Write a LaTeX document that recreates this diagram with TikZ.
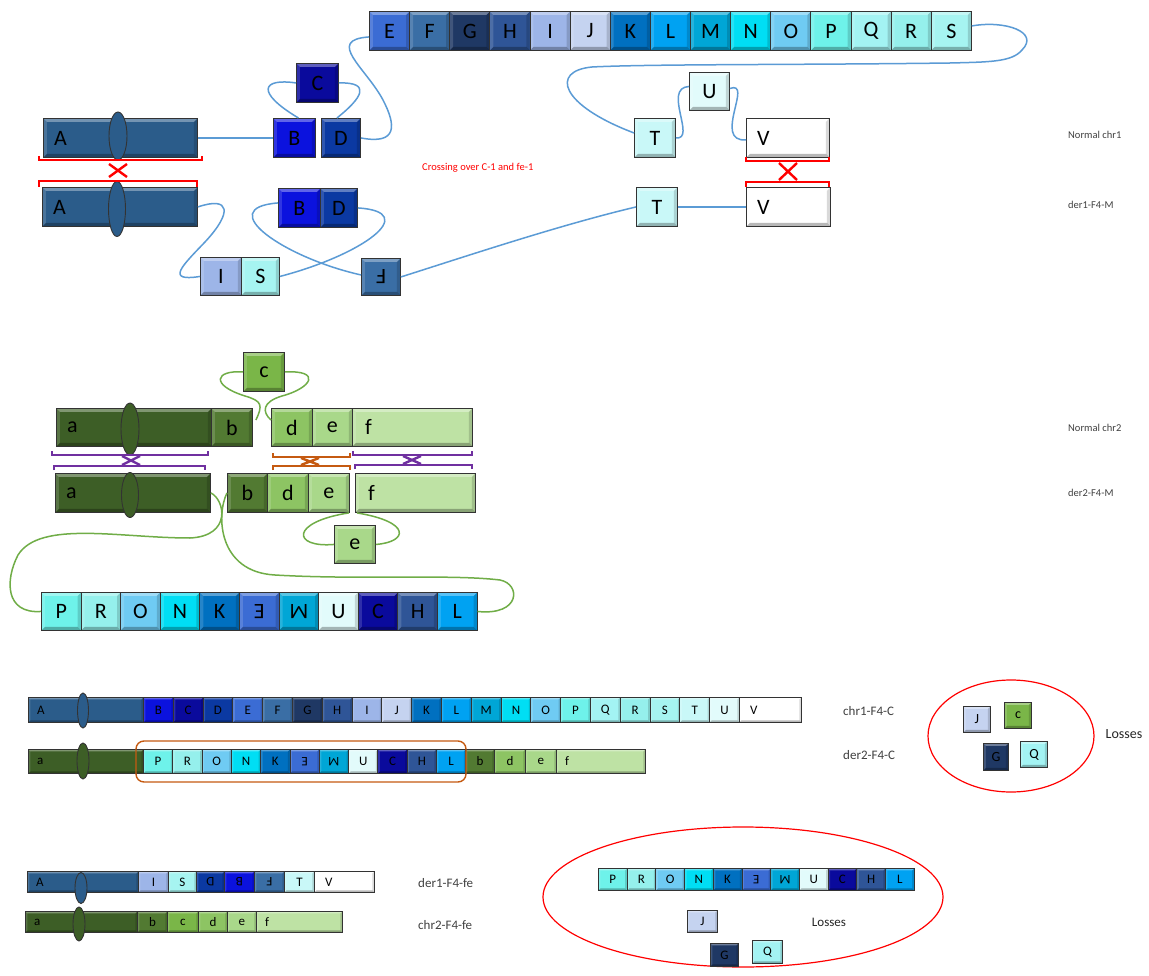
\documentclass[tikz,border=0pt]{standalone}
\usepackage{fontspec}
\setmainfont{Carlito}
\usepackage{graphicx}
\usetikzlibrary{shapes.geometric}
\definecolor{colA}{HTML}{2B5C8A}
\definecolor{colB}{HTML}{0B12DE}
\definecolor{colC}{HTML}{0A0A9C}
\definecolor{colD}{HTML}{0B39A2}
\definecolor{colE}{HTML}{3B6CD4}
\definecolor{colF}{HTML}{3A6EA5}
\definecolor{colG}{HTML}{1F3864}
\definecolor{colH}{HTML}{2F5597}
\definecolor{colI}{HTML}{9DB5E8}
\definecolor{colJ}{HTML}{C5D3F0}
\definecolor{colK}{HTML}{0070C0}
\definecolor{colL}{HTML}{00A2F2}
\definecolor{colM}{HTML}{00A6D6}
\definecolor{colN}{HTML}{00DEF4}
\definecolor{colO}{HTML}{6FCBF3}
\definecolor{colP}{HTML}{6EF2EA}
\definecolor{colQ}{HTML}{A3F3F3}
\definecolor{colR}{HTML}{95F0EC}
\definecolor{colS}{HTML}{A6F4F1}
\definecolor{colT}{HTML}{C9F8F8}
\definecolor{colU}{HTML}{E2FBFB}
\definecolor{colV}{HTML}{FFFFFF}
\definecolor{gra}{HTML}{3D5E26}
\definecolor{grb}{HTML}{527A32}
\definecolor{grc}{HTML}{7AB648}
\definecolor{grd}{HTML}{8DC463}
\definecolor{gre}{HTML}{A9D88A}
\definecolor{grf}{HTML}{BEE2A4}
\definecolor{lnblue}{HTML}{5B9BD5}
\definecolor{lngreen}{HTML}{70AD47}
\definecolor{lnpurple}{HTML}{7030A0}
\definecolor{lnorange}{HTML}{C55A11}
\definecolor{lnred}{HTML}{FF0000}
\definecolor{lblgray}{HTML}{404040}
\newcommand\flip[1]{\rotatebox[origin=c]{180}{#1}}
\tikzset{
  bev/.store in=\bevw, bev=3.5pt,
  seg/.style={draw=black!80, line width=0.9pt, inner sep=0pt, anchor=north west,
    font=\fontsize{22}{22}\selectfont,
    path picture={
      \fill[white,opacity=.35] (path picture bounding box.north west) -- (path picture bounding box.north east)
        -- ([xshift=-\bevw,yshift=-\bevw]path picture bounding box.north east)
        -- ([xshift=\bevw,yshift=-\bevw]path picture bounding box.north west) -- cycle;
      \fill[white,opacity=.15] (path picture bounding box.north west) -- (path picture bounding box.south west)
        -- ([xshift=\bevw,yshift=\bevw]path picture bounding box.south west)
        -- ([xshift=\bevw,yshift=-\bevw]path picture bounding box.north west) -- cycle;
      \fill[black,opacity=.28] (path picture bounding box.south west) -- (path picture bounding box.south east)
        -- ([xshift=-\bevw,yshift=\bevw]path picture bounding box.south east)
        -- ([xshift=\bevw,yshift=\bevw]path picture bounding box.south west) -- cycle;
      \fill[black,opacity=.15] (path picture bounding box.north east) -- (path picture bounding box.south east)
        -- ([xshift=-\bevw,yshift=\bevw]path picture bounding box.south east)
        -- ([xshift=-\bevw,yshift=-\bevw]path picture bounding box.north east) -- cycle;
    }},
  sseg/.style={seg, bev=2pt, font=\fontsize{13}{13}\selectfont},
  mseg/.style={seg, bev=2.5pt, font=\fontsize{14}{14}\selectfont},
  lin/.style={anchor=west, xshift=11pt, inner sep=0pt, font=\fontsize{22}{22}\selectfont},
  slin/.style={anchor=west, xshift=9pt, inner sep=0pt, font=\fontsize{13}{13}\selectfont},
  cen/.style={ellipse, draw=black!80, line width=0.9pt, inner sep=0pt},
  bl/.style={draw=lnblue, line width=1.5pt},
  gr/.style={draw=lngreen, line width=1.5pt},
  rb/.style={draw=lnred, line width=2.4pt},
  pb/.style={draw=lnpurple, line width=2.4pt},
  ob/.style={draw=lnorange, line width=2.4pt},
  rlab/.style={anchor=west, inner sep=0pt, text=lblgray, font=\fontsize{10.5}{10.5}\selectfont},
  blab/.style={anchor=west, inner sep=0pt, text=lblgray, font=\fontsize{13}{13}\selectfont},
}
\begin{document}
\begin{tikzpicture}[x=1pt,y=-1pt]
\useasboundingbox (0,0) rectangle (1149,976);
\fill[white] (0,0) rectangle (1149,976);

% ---------------- top section: Normal chr1 / der1-F4-M
\node[seg,fill=colA,minimum width=154,minimum height=39,label={[lin]west:A}] (A1) at (43,118) {};
\node[cen,fill=colA,minimum width=18,minimum height=48] (A1c) at (118,136) {};
\node[seg,fill=colB,minimum width=42,minimum height=39] (B1) at (273,118) {B};
\node[seg,fill=colD,minimum width=39,minimum height=39] (D1) at (321,118) {D};
\node[seg,fill=colC,minimum width=42,minimum height=39] (C1) at (296,63) {C};
\foreach \nm [count=\i from 0] in {E,F,G,H,I,J,K,L,M,N,O,P,Q,R,S}
  \node[seg,fill=col\nm,minimum width=40.13,minimum height=39] (t\nm) at ({369+40.13*\i},11) {\nm};
\node[seg,fill=colT,minimum width=41,minimum height=39] (T1) at (634,118) {T};
\node[seg,fill=colU,minimum width=40,minimum height=38] (U1) at (689,72) {U};
\node[seg,fill=colV,minimum width=83,minimum height=39,label={[lin]west:V}] (V1) at (746,118) {};

\node[seg,fill=colA,minimum width=155,minimum height=39,label={[lin]west:A}] (A2) at (42,187) {};
\node[cen,fill=colA,minimum width=17,minimum height=55] (A2c) at (117,209) {};
\node[seg,fill=colB,minimum width=42,minimum height=39] (B2) at (278,188) {B};
\node[seg,fill=colD,minimum width=37,minimum height=39] (D2) at (320,188) {D};
\node[seg,fill=colI,minimum width=41,minimum height=38] (I2) at (200,257) {I};
\node[seg,fill=colS,minimum width=38,minimum height=38] (S2) at (241,257) {S};
\node[seg,fill=colF,minimum width=39,minimum height=37] (F2) at (361,258) {\flip{F}};
\node[seg,fill=colT,minimum width=41,minimum height=39] (T2) at (636,187) {T};
\node[seg,fill=colV,minimum width=84,minimum height=39,label={[lin]west:V}] (V2) at (746,187) {};

% blue connectors
\draw[bl] (A1.east) -- (B1.west);
\draw[bl] ([xshift=4pt]B1.north) .. controls (255,92) and (262,78) .. (C1.west);
\draw[bl] (C1.east) .. controls (372,82) and (362,98) .. ([xshift=-4pt]D1.north);
\draw[bl] (D1.east) .. controls (398,145) and (396,125) .. (383,100) .. controls (366,68) and (325,40) .. ([yshift=-6pt]tE.west);
\draw[bl] ([yshift=5pt]tS.east) .. controls (1005,20) and (1040,32) .. (1022,50) .. controls (1012,62) and (990,62) .. (950,63)
   .. controls (800,65) and (650,64) .. (592,67) .. controls (550,71) and (560,105) .. ([yshift=5pt]T1.west);
\draw[bl] (T1.east) .. controls (697,140) and (662,88) .. ([yshift=5pt]U1.west);
\draw[bl] ([yshift=3pt]U1.east) .. controls (754,80) and (712,142) .. ([yshift=-2pt]V1.west);
\draw[bl] (T2.east) -- (V2.west);
\draw[bl] (T2.west) .. controls (560,225) and (470,255) .. (F2.east);
\draw[bl] (A2.east) .. controls (230,196) and (233,212) .. (205,242) .. controls (182,266) and (165,282) .. (I2.west);
\draw[bl] ([yshift=5pt]B2.west) .. controls (212,208) and (285,258) .. ([yshift=2pt]F2.west);
\draw[bl] (D2.east) .. controls (422,212) and (362,255) .. (S2.east);

% red brackets
\draw[rb] (39,156) -- (39,160) -- (202,160) -- (202,156);
\draw[rb] (39,187) -- (39,181) -- (197,181) -- (197,187);
\draw[rb] (109,164) -- (127,177) (127,164) -- (109,177);
\draw[rb] (746,157) -- (746,161) -- (829,161) -- (829,157);
\draw[rb] (746,187) -- (746,182) -- (829,182) -- (829,187);
\draw[rb] (779,163) -- (797,180) (797,163) -- (779,180);

\node[anchor=west,inner sep=0pt,text=lnred,font=\fontsize{10.5}{10.5}\selectfont] (cross) at (422,168) {Crossing over C-1 and fe-1};
\node[rlab] (lab1) at (1068,135) {Normal chr1};
\node[rlab] (lab2) at (1068,205) {der1-F4-M};

% ---------------- middle section: Normal chr2 / der2-F4-M
\node[seg,fill=grc,minimum width=41,minimum height=39] (c1) at (243,352) {c};
\node[seg,fill=gra,minimum width=155,minimum height=38,label={[lin]west:a}] (a1) at (56,408) {};
\node[cen,fill=gra,minimum width=18,minimum height=52] (a1c) at (130,429) {};
\node[seg,fill=grb,minimum width=41,minimum height=38] (b1) at (211,408) {b};
\node[seg,fill=grd,minimum width=41,minimum height=38] (d1) at (271,408) {d};
\node[seg,fill=gre,minimum width=40,minimum height=38] (e1) at (312,408) {e};
\node[seg,fill=grf,minimum width=120,minimum height=38,label={[lin,xshift=2pt]west:f}] (f1) at (352,408) {};

\node[seg,fill=gra,minimum width=155,minimum height=39,label={[lin]west:a}] (a2) at (55,473) {};
\node[cen,fill=gra,minimum width=17,minimum height=45] (a2c) at (130,495) {};
\node[seg,fill=grb,minimum width=40,minimum height=39] (b2) at (227,473) {b};
\node[seg,fill=grd,minimum width=41,minimum height=39] (d2) at (267,473) {d};
\node[seg,fill=gre,minimum width=41,minimum height=39] (e2) at (308,473) {e};
\node[seg,fill=grf,minimum width=120,minimum height=39,label={[lin,xshift=2pt]west:f}] (f2) at (355,473) {};
\node[seg,fill=gre,minimum width=41,minimum height=38] (e3) at (334,525) {e};
\foreach \nm/\cl/\lb [count=\i from 0] in {P/colP/P,R/colR/R,O/colO/O,N/colN/N,K/colK/K,E/colE/\flip{E},M/colM/\flip{M},U/colU/U,C/colC/C,H/colH/H,L/colL/L}
  \node[seg,fill=\cl,minimum width=39.6,minimum height=38] (m\nm) at ({41+39.6*\i},592) {\lb};

% green connectors
\draw[gr] ([shift={(3pt,-12pt)}]b1.north east) .. controls (263,405) and (262,401) .. (245,396) .. controls (210,385) and (215,370) .. (c1.west);
\draw[gr] (c1.east) .. controls (322,370) and (312,388) .. (282,396) .. controls (262,402) and (262,412) .. ([yshift=-12pt]d1.north west);
\draw[gr] (a2.east) .. controls (225,500) and (232,536) .. (190,538) .. controls (120,538) and (40,520) .. (18,555) .. controls (5,580) and (5,614) .. (mP.west);
\draw[gr] (b2.west) .. controls (216,515) and (218,572) .. (275,575) .. controls (360,580) and (450,574) .. (500,580) .. controls (521,584) and (521,616) .. (mL.east);
\draw[gr] ([xshift=-1pt]e2.south east) .. controls (290,522) and (292,548) .. (e3.west);
\draw[gr] ([xshift=2pt]f2.south west) .. controls (412,522) and (408,542) .. (e3.east);

% purple / orange brackets
\draw[pb] (52,451) -- (52,455) -- (208,455) -- (208,451);
\draw[pb] (54,470) -- (54,466) -- (205,466) -- (205,470);
\draw[pb] (122,456) -- (140,465) (140,456) -- (122,465);
\draw[ob] (273,453) -- (273,457) -- (350,457) -- (350,453);
\draw[ob] (273,470) -- (273,466) -- (350,466) -- (350,470);
\draw[ob] (301,458) -- (319,465) (319,458) -- (301,465);
\draw[pb] (353,451) -- (353,455) -- (472,455) -- (472,451);
\draw[pb] (355,469) -- (355,465) -- (472,465) -- (472,469);
\draw[pb] (403,456) -- (421,464) (421,456) -- (403,464);

\node[rlab] (lab3) at (1068,428) {Normal chr2};
\node[rlab] (lab4) at (1068,493) {der2-F4-M};

% ---------------- chr1-F4-C / der2-F4-C
\node[sseg,fill=colA,minimum width=115,minimum height=25,label={[slin]west:A}] (xA) at (28,697) {};
\node[cen,fill=colA,minimum width=11,minimum height=35] (xAc) at (83,710.5) {};
\foreach \nm [count=\i from 0] in {B,C,D,E,F,G,H,I,J,K,L,M,N,O,P,Q,R,S,T,U}
  \node[sseg,fill=col\nm,minimum width=29.8,minimum height=25] (x\nm) at ({143+29.8*\i},697) {\nm};
\node[sseg,fill=colV,minimum width=62,minimum height=25,label={[slin,xshift=2pt]west:V}] (xV) at (739,697) {};

\node[sseg,fill=gra,minimum width=115,minimum height=24,label={[slin]west:a}] (ya) at (28,749) {};
\node[cen,fill=gra,minimum width=12,minimum height=36] (yac) at (83,761) {};
\foreach \nm/\cl/\lb [count=\i from 0] in {P/colP/P,R/colR/R,O/colO/O,N/colN/N,K/colK/K,E/colE/\flip{E},M/colM/\flip{M},U/colU/U,C/colC/C,H/colH/H,L/colL/L}
  \node[sseg,fill=\cl,minimum width=29.3,minimum height=24] (y\nm) at ({143+29.3*\i},749) {\lb};
\node[sseg,fill=grb,minimum width=29,minimum height=24] (yb) at (465,749) {b};
\node[sseg,fill=grd,minimum width=31,minimum height=24] (yd) at (494,749) {d};
\node[sseg,fill=gre,minimum width=31,minimum height=24] (ye) at (525,749) {e};
\node[sseg,fill=grf,minimum width=89,minimum height=24,label={[slin]west:f}] (yf) at (556,749) {};
\draw[lnorange, line width=1.4pt, rounded corners=8pt] (136,741) rectangle (466,782);

\node[blab] (lab5) at (843,711) {chr1-F4-C};
\node[blab] (lab6) at (843,755) {der2-F4-C};

\draw[lnred, line width=1.2pt] (1011,736) ellipse [x radius=83, y radius=56];
\node[mseg,fill=colJ,minimum width=27,minimum height=26] (lJ) at (963,706) {J};
\node[mseg,fill=grc,minimum width=27,minimum height=26] (lc) at (1004,702) {c};
\node[mseg,fill=colG,minimum width=25,minimum height=27] (lG) at (983,743) {G};
\node[mseg,fill=colQ,minimum width=27,minimum height=26] (lQ) at (1020,741) {Q};
\node[anchor=center,inner sep=0pt,text=black!85,font=\fontsize{14}{14}\selectfont] (loss1) at (1124,734) {Losses};

% ---------------- der1-F4-fe / chr2-F4-fe
\node[sseg,fill=colA,minimum width=111,minimum height=21,label={[slin]west:A}] (uA) at (27,871) {};
\node[cen,fill=colA,minimum width=12,minimum height=31] (uAc) at (81,888) {};
\node[sseg,fill=colI,minimum width=30,minimum height=21] (uI) at (138,871) {I};
\node[sseg,fill=colS,minimum width=28,minimum height=21] (uS) at (168,871) {S};
\node[sseg,fill=colD,minimum width=28,minimum height=21] (uD) at (196,871) {\flip{D}};
\node[sseg,fill=colB,minimum width=30,minimum height=21] (uB) at (224,871) {\flip{B}};
\node[sseg,fill=colF,minimum width=30,minimum height=21] (uF) at (254,871) {\flip{F}};
\node[sseg,fill=colT,minimum width=30,minimum height=21] (uT) at (284,871) {T};
\node[sseg,fill=colV,minimum width=60,minimum height=21,label={[slin,xshift=2pt]west:V}] (uV) at (314,871) {};

\node[sseg,fill=gra,minimum width=112,minimum height=21,label={[slin]west:a}] (wa) at (25,911) {};
\node[cen,fill=gra,minimum width=12,minimum height=34] (wac) at (79,924) {};
\node[sseg,fill=grb,minimum width=30,minimum height=21] (wb) at (137,911) {b};
\node[sseg,fill=grc,minimum width=31,minimum height=21] (wc) at (167,911) {c};
\node[sseg,fill=grd,minimum width=29,minimum height=21] (wd) at (198,911) {d};
\node[sseg,fill=gre,minimum width=29,minimum height=21] (we) at (227,911) {e};
\node[sseg,fill=grf,minimum width=86,minimum height=21,label={[slin]west:f}] (wf) at (256,911) {};

\node[blab] (lab7) at (418,883) {der1-F4-fe};
\node[blab] (lab8) at (418,925) {chr2-F4-fe};

\draw[lnred, line width=1.2pt] (743,897) ellipse [x radius=200, y radius=70];
\foreach \nm/\cl/\lb [count=\i from 0] in {P/colP/P,R/colR/R,O/colO/O,N/colN/N,K/colK/K,E/colE/\flip{E},M/colM/\flip{M},U/colU/U,C/colC/C,H/colH/H,L/colL/L}
  \node[sseg,fill=\cl,minimum width=28.7,minimum height=22] (z\nm) at ({598+28.7*\i},868) {\lb};
\node[sseg,fill=colJ,minimum width=30,minimum height=22] (zJ) at (687,910) {J};
\node[sseg,fill=colG,minimum width=28,minimum height=23] (zG) at (710,943) {G};
\node[sseg,fill=colQ,minimum width=30,minimum height=23] (zQ) at (752,940) {Q};
\node[anchor=center,inner sep=0pt,text=black!85,font=\fontsize{13}{13}\selectfont] (loss2) at (829,922) {Losses};
\end{tikzpicture}
\end{document}
